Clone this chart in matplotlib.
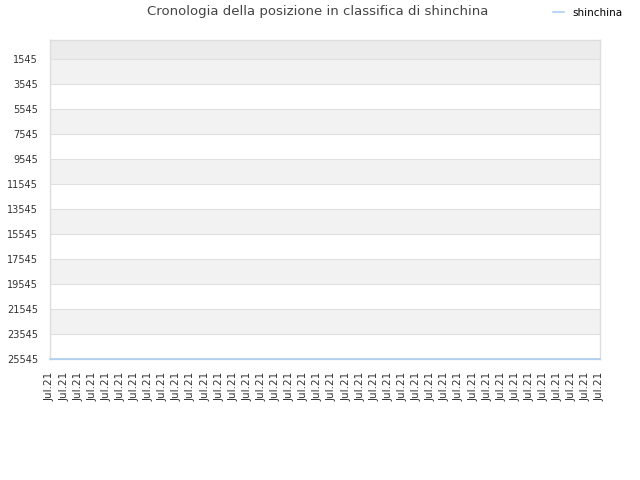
import matplotlib
matplotlib.use("Agg")
import matplotlib.pyplot as plt
import numpy as np

title = "Cronologia della posizione in classifica di shinchina"
series_name = "shinchina"
x_labels = ["Jul.21"] * 40
positions = [25545] * 40
y_ticks = [1545, 3545, 5545, 7545, 9545, 11545, 13545, 15545, 17545,
           19545, 21545, 23545, 25545]
y_top = 1
y_bottom = 25545

fig = plt.figure(figsize=(6.4, 4.8), dpi=100)
ax = fig.add_axes([50/640, 1-359/480, 550/640, 319/480])

x = np.arange(len(x_labels))
ax.set_xlim(x[0], x[-1])
ax.set_ylim(y_bottom, y_top)

# background bands
ax.axhspan(y_top, y_ticks[0], color="#ececec", zorder=0, lw=0)
for i in range(len(y_ticks) - 1):
    if i % 2 == 0:
        ax.axhspan(y_ticks[i], y_ticks[i+1], color="#f2f2f2", zorder=0, lw=0)
for t in y_ticks:
    ax.axhline(t, color="#e0e0e0", lw=0.8, zorder=1)

ax.plot(x, positions, color="#a6cdf2", lw=1.1, zorder=3, label=series_name,
        clip_on=False)

ax.set_yticks(y_ticks)
ax.set_yticklabels([str(t) for t in y_ticks], fontsize=7, color="#333333")
ax.set_xticks(x)
ax.set_xticklabels(x_labels, rotation=90, fontsize=7.5, color="#333333")
ax.tick_params(axis="y", length=0, pad=8.5)
ax.tick_params(axis="x", length=0, pad=9.5)

for s in ["left", "top", "right", "bottom"]:
    ax.spines[s].set_color("#dddddd")
    ax.spines[s].set_linewidth(1)

fig.text(318/640, 1-12/480, title, ha="center", va="center", fontsize=9.5,
         color="#444444")

leg = fig.legend(loc="center left", bbox_to_anchor=(553/640, 1-13/480),
                 frameon=False, fontsize=7.5, handlelength=1.1,
                 handletextpad=0.8, borderaxespad=0, borderpad=0)

fig.savefig("out.png", dpi=100)
